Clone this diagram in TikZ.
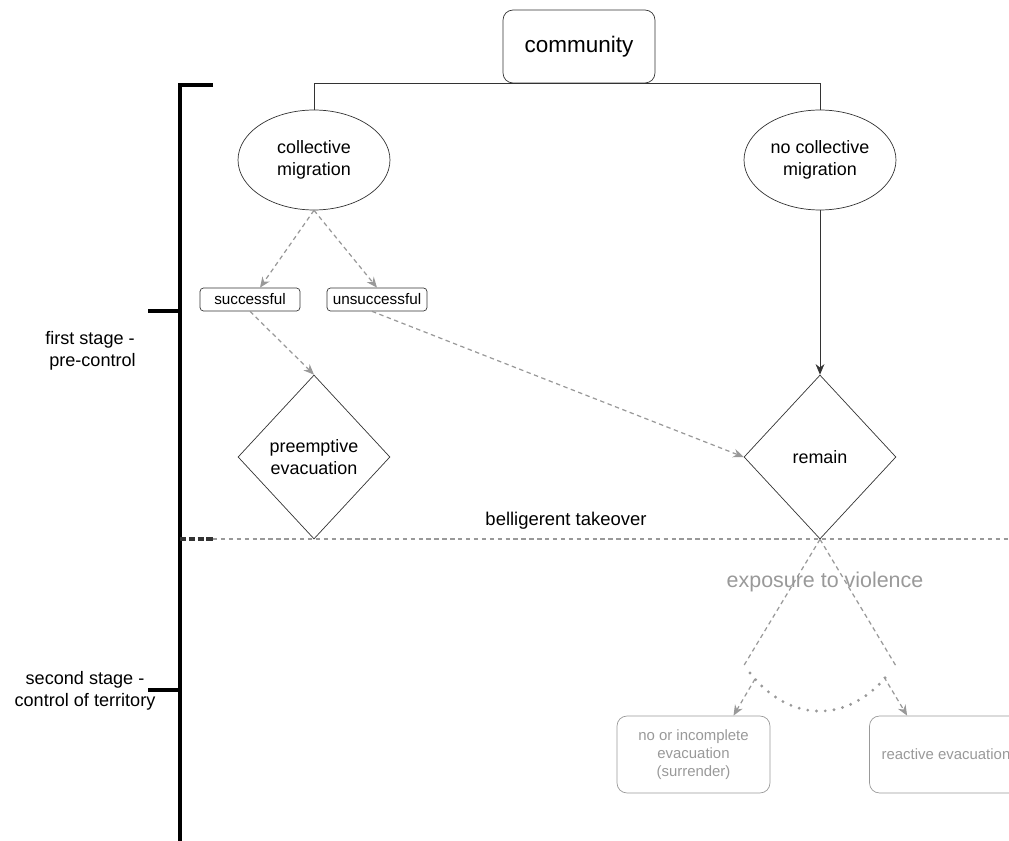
\documentclass[tikz,border=0pt]{standalone}
\usepackage{fontspec}
\setmainfont{Liberation Sans}
\usetikzlibrary{shapes.geometric,arrows.meta}
\definecolor{darkline}{HTML}{333333}
\definecolor{lightline}{HTML}{999999}
\definecolor{lighttext}{HTML}{999999}

\begin{document}
\begin{tikzpicture}[x=0.02cm, y=-0.02cm,
	rootbox/.style={draw=darkline, rounded corners=0.2cm, minimum width=3.04cm, minimum height=1.46cm, font=\fontsize{12.8}{15}\selectfont},
	choice/.style={draw=darkline, ellipse, minimum width=3.04cm, minimum height=2cm, inner sep=0pt, align=center, font=\fontsize{10.2}{12.5}\selectfont},
	outcome/.style={draw=darkline, rounded corners=2pt, minimum width=2cm, minimum height=0.46cm, inner sep=1pt, font=\fontsize{8.7}{10}\selectfont},
	state/.style={draw=darkline, diamond, minimum width=3.04cm, minimum height=3.28cm, inner sep=0pt, align=center, font=\fontsize{10.2}{12.5}\selectfont},
	result/.style={draw=lightline, rounded corners=0.2cm, minimum width=3.06cm, minimum height=1.54cm, align=center, text=lighttext, font=\fontsize{8.5}{10.2}\selectfont},
	stagelabel/.style={align=center, font=\fontsize{10.3}{12.5}\selectfont},
	bracket/.style={line width=2.2pt, black},
	solidarrow/.style={darkline, -{Stealth[length=6pt,width=5pt]}},
	dasharrow/.style={lightline, line width=0.7pt, dash pattern=on 2.5pt off 2pt, -{Stealth[length=6pt,width=5pt]}},
	dashline/.style={lightline, line width=0.7pt, dash pattern=on 2.5pt off 2pt},
	dotline/.style={lightline, line width=1.8pt, line cap=round, dash pattern=on 0pt off 5pt}]
			%%%%% START %%%%%
			
			\useasboundingbox (0,0) rectangle (1009,841);
			\clip (0,0) rectangle (1009,841);
			
			% stage bracket
			\draw[bracket] (213,85) -- (180,85) -- (180,845);
			\draw[bracket] (148,311) -- (180,311);
			\draw[bracket] (148,690) -- (180,690);
			\draw[bracket, black!80, line width=1.8pt, dash pattern=on 3.5pt off 1.5pt] (180,539) -- (213,539);
			\node[stagelabel] (stage1) at (90,351) {first stage -\\\ pre-control};
			\node[stagelabel] (stage2) at (85,691) {second stage -\\control of territory};
			
			% first stage
			\node[rootbox] (community) at (579,46.5) {community};
			\node[choice] (collective) at (314,160) {collective\\migration};
			\node[choice] (nocollective) at (820,160) {no collective\\migration};
			\node[outcome] (success) at (250,299.5) {successful};
			\node[outcome] (failure) at (377,299.5) {unsuccessful};
			\node[state] (preemptive) at (314,457) {preemptive\\evacuation};
			\node[state] (remain) at (820,457) {remain};
			
			\draw[darkline] (collective.north) |- (community.south) -| (nocollective.north);
			\draw[dasharrow] (collective.south) -- ([xshift=0.2cm]success.north);
			\draw[dasharrow] (collective.south) -- (failure.north);
			\draw[dasharrow] ([xshift=-0.1cm]failure.south) -- (remain.west);
			\draw[dasharrow] (success.south) -- (preemptive.north);
			\draw[solidarrow] (nocollective.south) -- (remain.north);
			
			% takeover line
			\coordinate (takeover) at (1012,539);
			\draw[dashline] (213,539) -- (takeover);
			\node[font=\fontsize{10.5}{12}\selectfont] (belligerent) at (566,521) {belligerent takeover};
			
			% second stage
			\node[text=lighttext, font=\fontsize{12.2}{14}\selectfont] (exposure) at (825,582) {exposure to violence};
			\node[result] (surrender) at (693.5,754.5) {no or incomplete\\evacuation\\(surrender)};
			\node[result] (reactive) at (946,754.5) {reactive evacuation};
			
			\coordinate (leftend) at (743,667);
			\coordinate (rightend) at (896,666);
			\coordinate (leftarc) at (750,673);
			\coordinate (rightarc) at (890,672);
			\draw[dashline] (remain.south) -- (leftend);
			\draw[dashline] (remain.south) -- (rightend);
			\draw[dotline] (leftarc) .. controls (790,724) and (850,724) .. (rightarc);
			\draw[dasharrow] (755,679) -- ([xshift=0.8cm]surrender.north);
			\draw[dasharrow] (884,677) -- ([xshift=0.76cm]reactive.north west);
			
			%%%%% END %%%%%
\end{tikzpicture}
\end{document}
